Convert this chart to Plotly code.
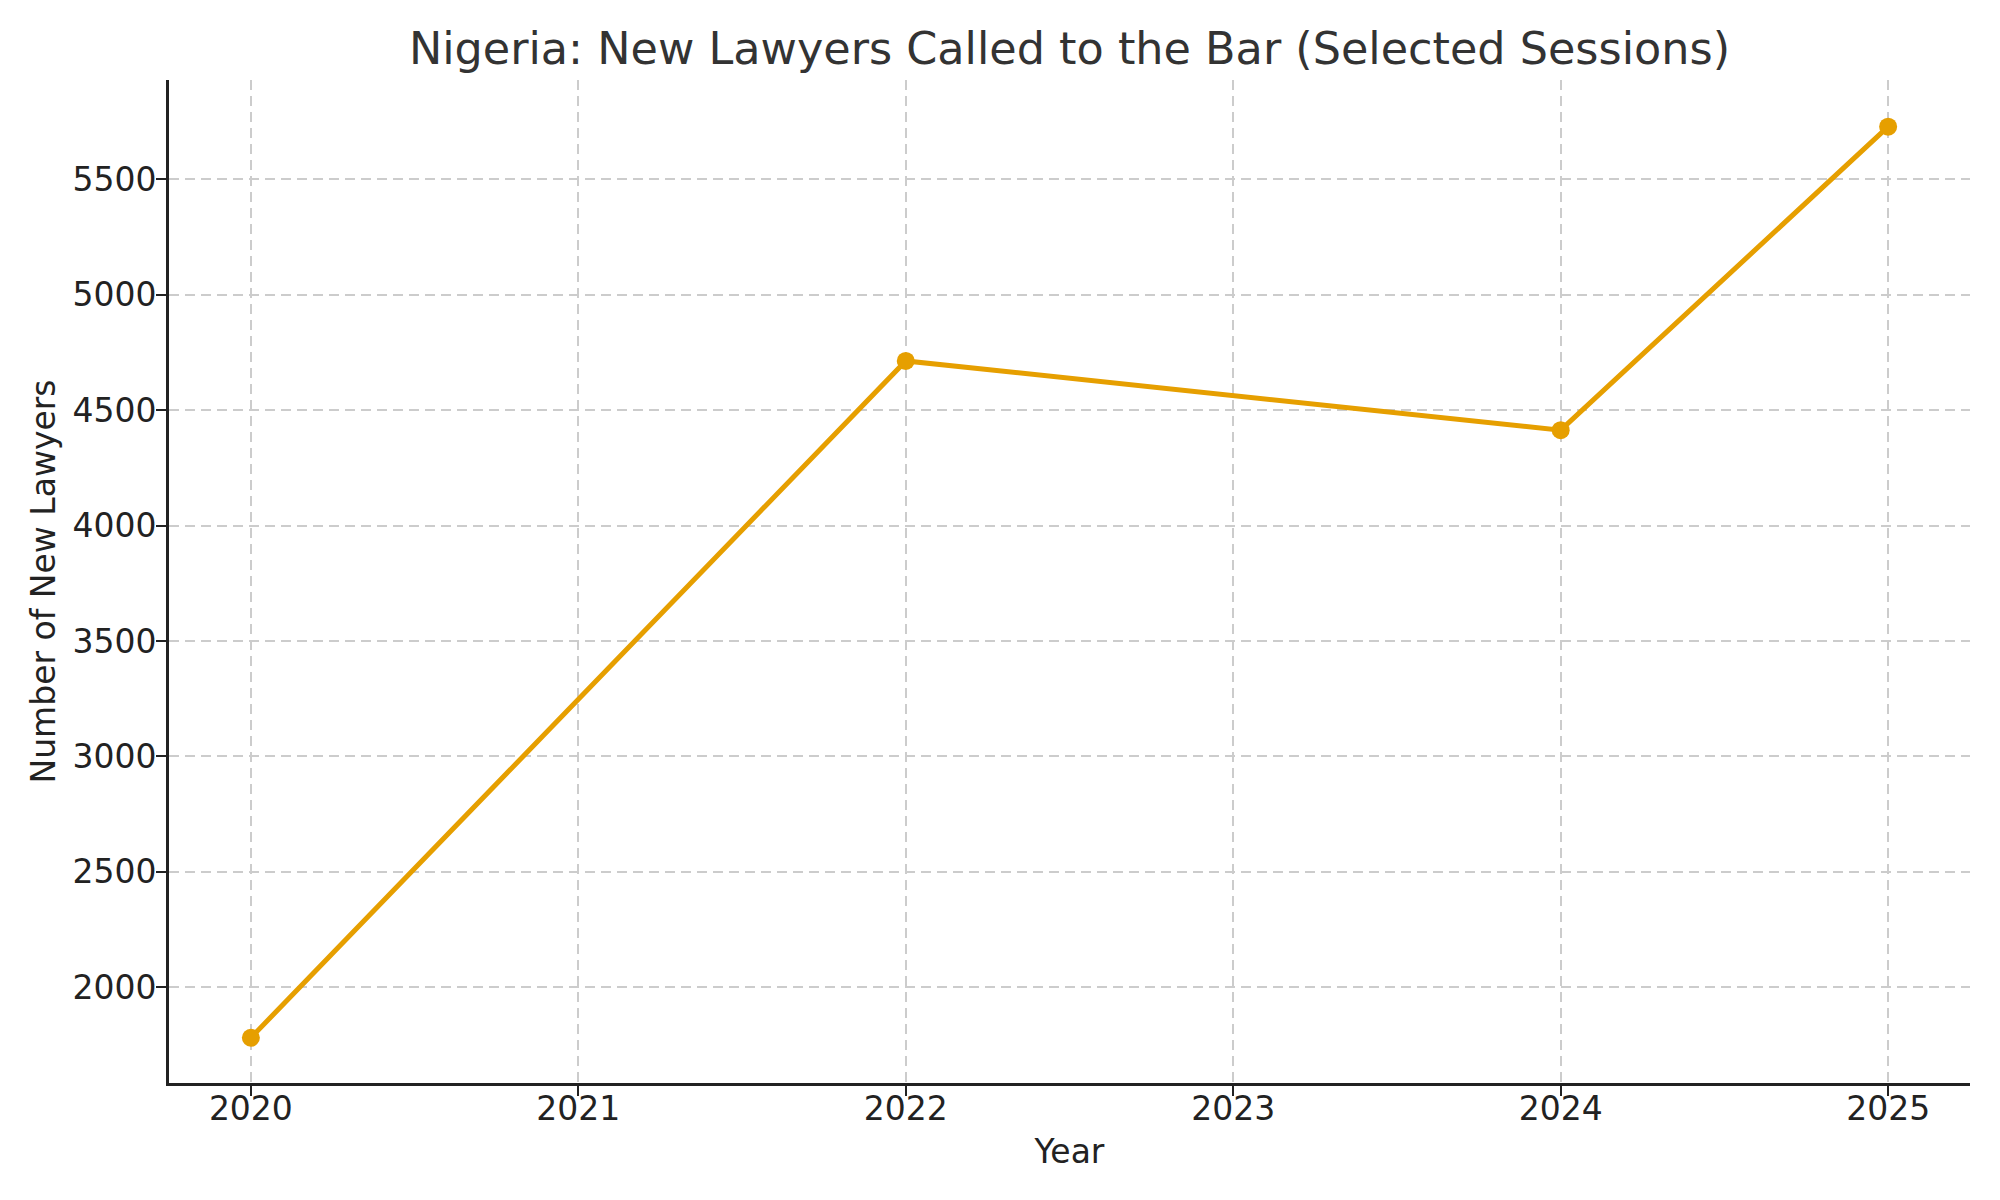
import plotly.graph_objects as go

# sessions shown in the chart (2023 has no data point)
years = [2020, 2022, 2024, 2025]
new_lawyers = [1781, 4713, 4413, 5728]

x_ticks = [2020, 2021, 2022, 2023, 2024, 2025]
y_ticks = [2000, 2500, 3000, 3500, 4000, 4500, 5000, 5500]

orange = "#E69F00"
font_family = "DejaVu Sans"


def build_figure():
    fig = go.Figure()
    fig.add_trace(
        go.Scatter(
            x=years,
            y=new_lawyers,
            mode="lines+markers",
            line=dict(color=orange, width=5),
            marker=dict(color=orange, size=18),
            showlegend=False,
        )
    )

    grid = dict(
        showgrid=True,
        gridcolor="#cccccc",
        gridwidth=2,
        griddash="10px,6px",
        showline=True,
        linecolor="#222222",
        linewidth=3,
        ticks="outside",
        ticklen=10,
        tickwidth=2,
        tickcolor="#222222",
        zeroline=False,
        tickfont=dict(family=font_family, size=33, color="#222222"),
    )

    # the page body has an 8px margin, so the figure is 8px smaller
    fig.update_layout(
        width=1992,
        height=1192,
        paper_bgcolor="white",
        plot_bgcolor="white",
        margin=dict(l=161, r=30, t=72, b=117),
        font=dict(family=font_family),
        title=dict(
            text="Nigeria: New Lawyers Called to the Bar (Selected Sessions)",
            font=dict(family=font_family, size=44.5, color="#333333"),
            x=0.5,
            xref="paper",
            xanchor="center",
            y=1 - 40 / 1192,
            yanchor="middle",
        ),
        xaxis=dict(
            range=[2019.75, 2025.25],
            tickvals=x_ticks,
            ticktext=[str(t) for t in x_ticks],
            ticklabelstandoff=-16,
            title=dict(
                text="Year",
                font=dict(family=font_family, size=33, color="#222222"),
                standoff=14,
            ),
            **grid,
        ),
        yaxis=dict(
            range=[1585, 5930],
            tickvals=y_ticks,
            ticktext=[str(t) for t in y_ticks],
            ticklabelstandoff=-7,
            title=dict(
                text="Number of New Lawyers",
                font=dict(family=font_family, size=33, color="#222222"),
                standoff=7,
            ),
            **grid,
        ),
    )
    return fig


if __name__ == "__main__":
    fig = build_figure()
    fig.write_html("out.html")
